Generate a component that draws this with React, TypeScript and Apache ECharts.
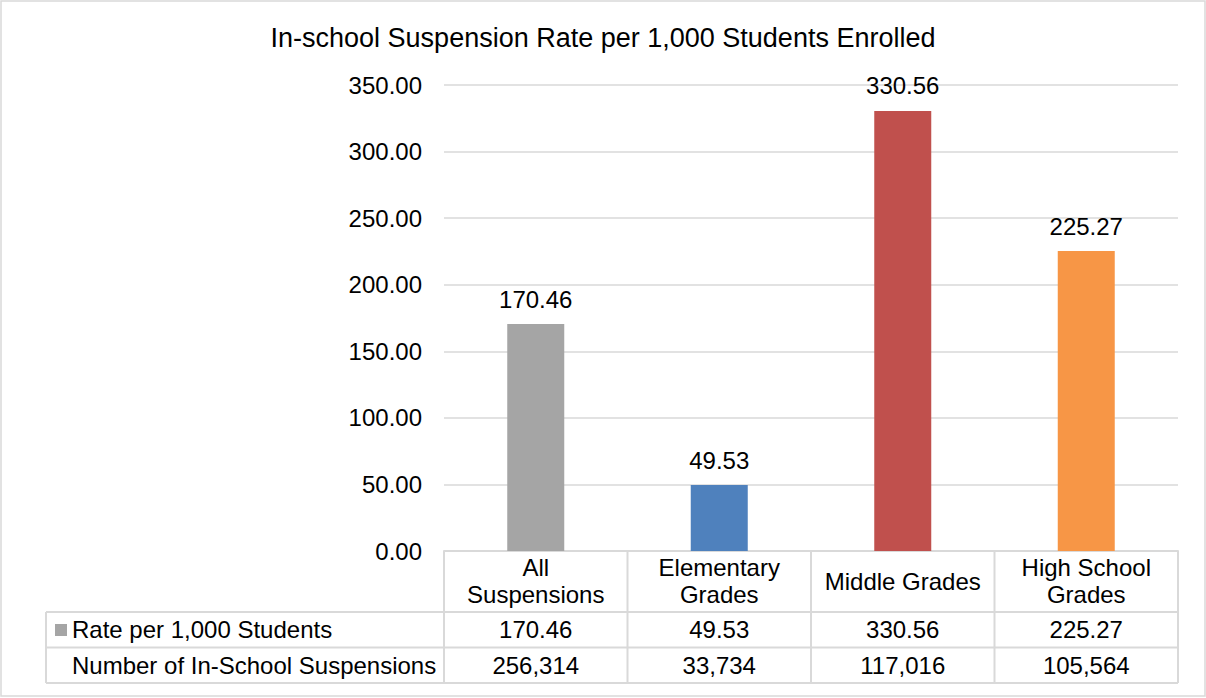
import React, { useEffect, useRef } from "react";
import * as echarts from "echarts";

const title = "In-school Suspension Rate per 1,000 Students Enrolled";
const categories = ["All\nSuspensions", "Elementary\nGrades", "Middle Grades", "High School\nGrades"];
const rates = [170.46, 49.53, 330.56, 225.27];
const counts = [256314, 33734, 117016, 105564];
const rowLabels = ["Rate per 1,000 Students", "Number of In-School Suspensions"];
const yMin = 0;
const yMax = 350;
const yInterval = 50;

const barColors = ["#a5a5a5", "#4f81bd", "#c0504d", "#f79646"];
const FONT = "'Liberation Sans', Arial, Helvetica, sans-serif";
const LINE = "#d9d9d9";
const FS = 24;

export default function App() {
  const ref = useRef<HTMLDivElement>(null);
  useEffect(() => {
    document.body.style.margin = "0";
    if (!ref.current) return;
    const chart = echarts.init(ref.current, null, { renderer: "svg" });
    const gridLeft = 444;
    const gridRight = 28;
    const gridTop = 85;
    const gridBottom = 147;
    chart.setOption({
      animation: false,
      backgroundColor: "#ffffff",
      title: {
        text: title,
        left: "center",
        top: 19,
        textStyle: { fontFamily: FONT, fontSize: 27, fontWeight: "normal", color: "#000" },
      },
      grid: { left: gridLeft, right: gridRight, top: gridTop, bottom: gridBottom, containLabel: false },
      xAxis: {
        type: "category",
        data: categories,
        axisTick: { show: false },
        axisLine: { show: true, lineStyle: { color: LINE, width: 2 } },
        axisLabel: {
          interval: 0,
          margin: 30,
          verticalAlign: "middle",
          fontFamily: FONT,
          fontSize: FS,
          lineHeight: 27,
          color: "#000",
        },
      },
      yAxis: {
        type: "value",
        min: yMin,
        max: yMax,
        interval: yInterval,
        axisLine: { show: false },
        axisTick: { show: false },
        splitLine: { lineStyle: { color: LINE, width: 1.5 } },
        axisLabel: {
          margin: 22,
          fontFamily: FONT,
          fontSize: FS,
          color: "#000",
          formatter: (v: number) => v.toFixed(2),
        },
      },
      series: [
        {
          type: "bar",
          barWidth: 57,
          data: rates.map((v, i) => ({ value: v, itemStyle: { color: barColors[i] } })),
          label: {
            show: true,
            position: "top",
            distance: 13,
            fontFamily: FONT,
            fontSize: FS,
            color: "#000",
            formatter: (p: any) => Number(p.value).toFixed(2),
          },
        },
      ],
    });

    const colCenters = categories.map((_, i) => chart.convertToPixel({ xAxisIndex: 0 }, i) as number);
    const zeroY = chart.convertToPixel({ yAxisIndex: 0 }, 0) as number;
    const plotLeft = gridLeft;
    const plotRight = 1206 - gridRight;
    const colW = (plotRight - plotLeft) / categories.length;
    const tableLeft = 46;
    const headerBottom = zeroY + 61;
    const rowH = 35.5;
    const rowYs = [headerBottom, headerBottom + rowH, headerBottom + 2 * rowH];
    const els: any[] = [];
    const line = (x1: number, y1: number, x2: number, y2: number) =>
      els.push({ type: "line", shape: { x1, y1, x2, y2 }, style: { stroke: LINE, lineWidth: 2 }, silent: true });
    rowYs.forEach((y) => line(tableLeft, y, plotRight, y));
    for (let i = 0; i <= categories.length; i++) {
      const x = plotLeft + i * colW;
      line(x, zeroY, x, rowYs[2]);
    }
    line(tableLeft, rowYs[0], tableLeft, rowYs[2]);
    els.push({
      type: "rect",
      shape: { x: 55, y: rowYs[0] + 12, width: 12, height: 12 },
      style: { fill: barColors[0] },
      silent: true,
    });
    const txt = (s: string, x: number, y: number, align: string) =>
      els.push({
        type: "text",
        x,
        y,
        style: {
          text: s,
          fontFamily: FONT,
          fontSize: FS,
          fill: "#000",
          align,
          textAlign: align,
          verticalAlign: "middle",
          textVerticalAlign: "middle",
        },
        silent: true,
      });
    txt(rowLabels[0], 72, rowYs[0] + rowH / 2, "left");
    txt(rowLabels[1], 72, rowYs[1] + rowH / 2, "left");
    colCenters.forEach((cx, i) => {
      txt(rates[i].toFixed(2), cx, rowYs[0] + rowH / 2, "center");
      txt(counts[i].toLocaleString("en-US"), cx, rowYs[1] + rowH / 2, "center");
    });
    els.push({
      type: "rect",
      shape: { x: 1, y: 1, width: 1204, height: 695 },
      style: { fill: "none", stroke: LINE, lineWidth: 1.5 },
      silent: true,
      z: -1,
    });
    chart.setOption({ graphic: els });
    return () => chart.dispose();
  }, []);
  return <div ref={ref} style={{ width: 1206, height: 698 }} />;
}
